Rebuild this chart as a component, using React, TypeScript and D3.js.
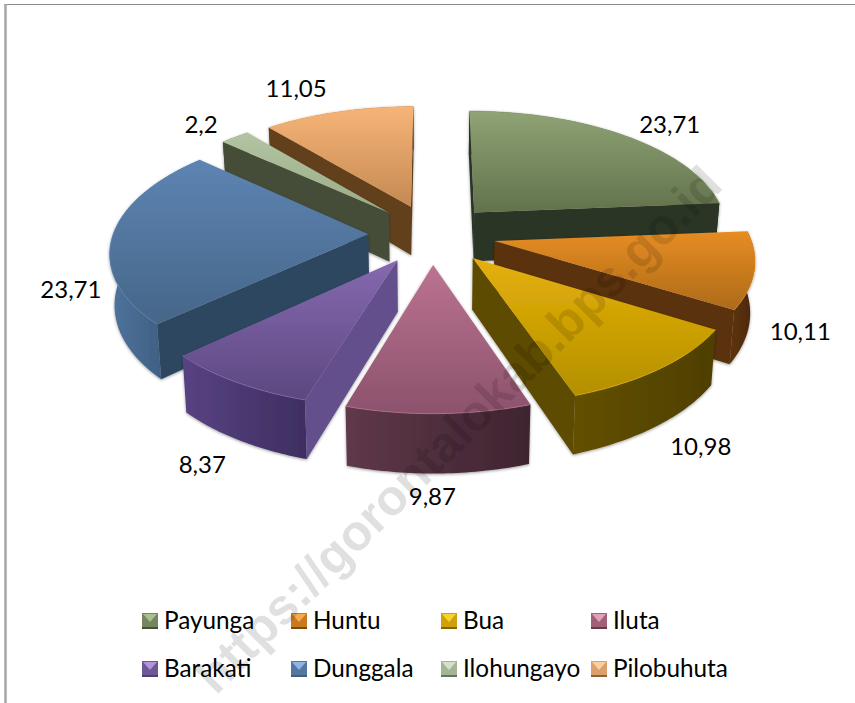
import React from "react";
import * as d3 from "d3";

const districts = ["Payunga", "Huntu", "Bua", "Iluta", "Barakati", "Dunggala", "Ilohungayo", "Pilobuhuta"];
const shares = [23.71, 10.11, 10.98, 9.87, 8.37, 23.71, 2.2, 11.05];
const shareLabels = ["23,71", "10,11", "10,98", "9,87", "8,37", "23,71", "2,2", "11,05"];

const topLight = ["#8fa375", "#e68d22", "#e6b00a", "#bb7392", "#8669b0", "#5d84b3", "#b3c4a2", "#f7b478"];
const topDark = ["#62724c", "#ad6a1a", "#b39000", "#8c526c", "#5c4880", "#466688", "#9aab88", "#c48a52"];
const radialWall = ["#2a3426", "#5a3208", "#5c4b00", "#5c3547", "#64508c", "#2f4660", "#454d39", "#633f1f"];
const outerLight = ["#2f3a2a", "#5e3409", "#635000", "#5f3849", "#584382", "#4f739d", "#4c5540", "#6d4725"];
const outerDark = ["#262f22", "#4a2806", "#4e3f00", "#3f2430", "#3e2e60", "#34506f", "#3f4735", "#57381b"];
const swatchBody = ["#748560", "#c87a1e", "#cfa00a", "#a06078", "#6f5696", "#55779f", "#a5b496", "#dca06c"];
const swatchLight = ["#a9bf8e", "#f5ab4c", "#f7d230", "#e2a0bd", "#b095d8", "#8db5e6", "#d5e0c8", "#fbcf9f"];
const labelNudges = [[45, -12], [46, 60], [41, 77], [-6, 82], [-34, 81], [-42, 54], [-34, -14], [-42, -24]];
const paintOrder = [0, 7, 6, 1, 5, 2, 4, 3];
const legendColumns = [142, 291, 441, 591];
const legendRows = [621, 669];

const CX = 432, CY = 234, A = 255, B = 120, K = 0.132, EXPLODE = 0.25, DEPTH = 50, TAPER = 0.985;

type P = [number, number];
function project(u: number, v: number, low: boolean): P {
  const s = 1 / (1 - K * v);
  const x = A * u * s * (low ? TAPER : 1);
  return [CX + x, CY + B * v * s + (low ? DEPTH * s : 0)];
}

const pieLayout = d3.pie<number>().sort(null)(shares);
const line = d3.line<P>();

function sliceGeometry(i: number) {
  const a = pieLayout[i];
  const mid = (a.startAngle + a.endAngle) / 2;
  const ou = Math.sin(mid) * EXPLODE, ov = -Math.cos(mid) * EXPLODE;
  const at = (t: number, r: number, low: boolean) => project(ou + r * Math.sin(t), ov - r * Math.cos(t), low);
  const ts = d3.range(0, 41).map((k) => a.startAngle + ((a.endAngle - a.startAngle) * k) / 40);
  const arcTop = ts.map((t) => at(t, 1, false));
  const arcLow = ts.map((t) => at(t, 1, true));
  const apexTop = at(0, 0, false), apexLow = at(0, 0, true);
  const top: P[] = [apexTop, ...arcTop];
  const outer: P[] = [...arcTop, ...arcLow.slice().reverse()];
  const startFace: P[] = [apexTop, arcTop[0], arcLow[0], apexLow];
  const endFace: P[] = [apexTop, arcTop[40], arcLow[40], apexLow];
  const anchor = project(ou + Math.sin(mid), ov - Math.cos(mid), false);
  return { top, outer, startFace, endFace, arcTop, anchor };
}

export default function App() {
  const geo = districts.map((_, i) => sliceGeometry(i));
  return (
    <svg width={855} height={703} style={{ position: "absolute", left: 0, top: 0, background: "#fff" }}>
      <defs>
        <filter id="soft" x="-10%" y="-10%" width="120%" height="125%">
          <feDropShadow dx="0" dy="1" stdDeviation="1.6" floodColor="#000" floodOpacity="0.38" />
        </filter>
        {districts.map((_, i) => (
          <React.Fragment key={i}>
            <linearGradient id={`top${i}`} x1="0" y1="0" x2="0" y2="1">
              <stop offset="0" stopColor={topLight[i]} />
              <stop offset="1" stopColor={topDark[i]} />
            </linearGradient>
            <linearGradient id={`wall${i}`} x1="0" y1="0" x2="1" y2="0">
              <stop offset="0" stopColor={outerLight[i]} />
              <stop offset="1" stopColor={outerDark[i]} />
            </linearGradient>
          </React.Fragment>
        ))}
      </defs>

      <line x1={4} x2={855} y1={4.5} y2={4.5} stroke="#8a8a8a" strokeWidth={1} />
      <line x1={5.5} x2={5.5} y1={4} y2={703} stroke="#a6a6a6" strokeWidth={2.5} />

      {paintOrder.map((i) => {
        const g = geo[i];
        return (
          <g key={i} filter="url(#soft)">
            <path d={line(g.outer) + "Z"} fill={`url(#wall${i})`} />
            {d3.polygonArea(g.startFace) > 0 && <path d={line(g.startFace) + "Z"} fill={radialWall[i]} />}
            {d3.polygonArea(g.endFace) < 0 && <path d={line(g.endFace) + "Z"} fill={radialWall[i]} />}
            <path d={line(g.top) + "Z"} fill={`url(#top${i})`} />
            <path d={line(g.arcTop)!} fill="none" stroke={topLight[i]} strokeOpacity={0.7} strokeWidth={1} />
          </g>
        );
      })}

      {shareLabels.map((t, i) => (
        <text
          key={t + i}
          x={geo[i].anchor[0] + labelNudges[i][0]}
          y={geo[i].anchor[1] + labelNudges[i][1]}
          textAnchor="middle"
          dominantBaseline="central"
          fontFamily="Lato, sans-serif"
          fontSize={24}
          fill="#000"
        >
          {t}
        </text>
      ))}

      {districts.map((name, i) => {
        const x = legendColumns[i % 4];
        const y = legendRows[Math.floor(i / 4)];
        const S = 16;
        const x0 = x, y0 = y - S / 2;
        return (
          <g key={name}>
            <rect x={x0} y={y0} width={S} height={S} fill={swatchBody[i]} />
            <path
              d={`M${x0},${y0 + S - 2}H${x0 + S}V${y0 + S}H${x0}Z`}
              fill={outerDark[i]}
              fillOpacity={0.6}
            />
            <path d={`M${x0 + 1},${y0 + 1}H${x0 + S - 1}L${x0 + S / 2},${y0 + S / 2 + 1}Z`} fill={swatchLight[i]} />
            <text
              x={x + 22}
              y={y - 1.5}
              dominantBaseline="central"
              fontFamily="Lato, sans-serif"
              fontSize={24.3}
              fill="#000"
            >
              {name}
            </text>
          </g>
        );
      })}

      <text
        transform="translate(216,696) rotate(-45)"
        fontFamily="'Liberation Sans', Arial, sans-serif"
        fontWeight="bold"
        fontSize={50}
        fill="#000"
        fillOpacity={0.12}
      >
        https://gorontalokab.bps.go.id
      </text>
    </svg>
  );
}
